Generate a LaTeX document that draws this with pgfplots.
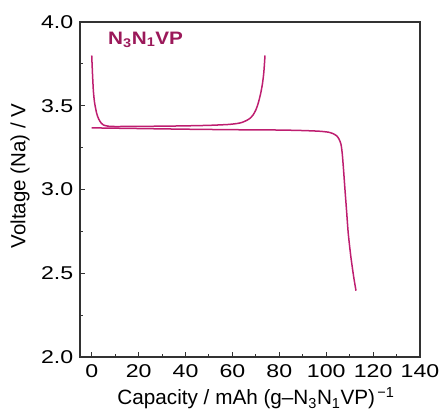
\documentclass[border=0pt]{standalone}
\usepackage{fontspec}
\setmainfont{Liberation Sans}
\usepackage{graphicx}
\usepackage{pgfplots}
\pgfplotsset{compat=1.18}
\definecolor{curve}{RGB}{190,30,112}
\definecolor{labelc}{RGB}{155,25,90}
\definecolor{axisc}{RGB}{50,50,50}
\begin{document}
\begin{tikzpicture}
\begin{axis}[
    name=ax,
    scale only axis,
    width=340pt, height=335pt,
    xmin=-5, xmax=140,
    ymin=2, ymax=4,
    xtick={0,20,...,140},
    minor xtick={10,30,...,130},
    ytick={2,2.5,...,4},
    minor ytick={2.25,2.75,...,3.75},
    tick align=inside,
    major tick length=5pt,
    minor tick length=3pt,
    xtick pos=bottom, ytick pos=left,
    axis line style={axisc, line width=1.3pt},
    every tick/.style={axisc, line width=1pt},
    tick label style={font=\fontsize{18.5}{20}\selectfont, text=black},
    /pgf/number format/assume math mode=true,
    xticklabel={\scalebox{1.25}[1]{\pgfmathprintnumber{\tick}}},
    yticklabel={\scalebox{1.25}[1]{\pgfmathprintnumber[fixed,fixed zerofill,precision=1]{\tick}}},
    xticklabel style={yshift=-4pt},
    yticklabel style={xshift=-3.3pt},
    xlabel={Capacity / mAh (g–N\textsubscript{3}N\textsubscript{1}VP)\textsuperscript{\,−1}},
    ylabel={Voltage (Na) / V},
    xlabel style={font=\fontsize{20.7}{22}\selectfont, at={(axis description cs:0.5176,-0.143)}, anchor=base},
    ylabel style={font=\fontsize{20.5}{22}\selectfont, at={(axis description cs:-0.176,0.540)}, anchor=center},
]
\addplot[curve, line width=1.5pt, smooth, tension=0.4] coordinates {
    (0,3.80) (0.3,3.70) (0.7,3.59) (1.2,3.52) (2.1,3.455) (3,3.42) (4,3.397)
    (5,3.385) (7,3.378) (10,3.376) (20,3.377) (30,3.378) (40,3.380) (50,3.383)
    (58,3.388) (62,3.394) (64,3.400) (66,3.412) (67.5,3.425) (68.8,3.445)
    (70,3.475) (71,3.515) (72,3.57) (72.8,3.63) (73.4,3.70) (73.9,3.80)
};
\addplot[curve, line width=1.5pt, smooth, tension=0.4] coordinates {
    (0,3.368) (10,3.366) (20,3.364) (40,3.360) (60,3.357) (80,3.355) (90,3.352)
    (97,3.348) (101,3.342) (103,3.333) (104.5,3.32) (105.5,3.30) (106.3,3.27)
    (106.8,3.22) (107.3,3.136) (108,3.00) (108.7,2.87) (109.4,2.738)
    (110.5,2.60) (111.7,2.48) (112.7,2.396)
};
\node[anchor=base west, inner sep=0pt, text=labelc, font=\fontsize{18}{20}\selectfont\bfseries]
    at (axis cs:6.95,3.867) {\scalebox{1.15}[1]{N\textsubscript{3}N\textsubscript{1}VP}};
\end{axis}
\pgfresetboundingbox
\path[use as bounding box] ([shift={(-80pt,-55pt)}]ax.south west) rectangle ([shift={(21pt,22pt)}]ax.north east);
\end{tikzpicture}
\end{document}
